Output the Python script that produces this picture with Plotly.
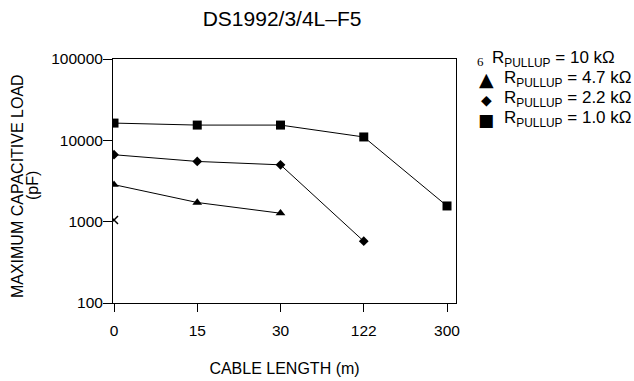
import plotly.graph_objects as go

cable_labels = ["0", "15", "30", "122", "300"]
cable_idx = [0, 1, 2, 3, 4]

r10k_x = [0]
r10k_y = [1050]

r47k_x = [0, 1, 2]
r47k_y = [2850, 1720, 1270]

r22k_x = [0, 1, 2, 3]
r22k_y = [6650, 5500, 5000, 575]

r10_x = [0, 1, 2, 3, 4]
r10_y = [16300, 15400, 15400, 11000, 1560]

y_ticks = [100, 1000, 10000, 100000]
y_tick_labels = ["100", "1000", "10000", "100000"]

legend_labels = ["R<sub>PULLUP</sub> = 10 kΩ", "R<sub>PULLUP</sub> = 4.7 kΩ",
                 "R<sub>PULLUP</sub> = 2.2 kΩ", "R<sub>PULLUP</sub> = 1.0 kΩ"]
legend_glyphs = ["6", "▲", "◆", "■"]

FONT = "Liberation Sans, Arial, sans-serif"

W, H = 634, 381
L, T = 113.3, 59
PW = 342.4
B = 78

fig = go.Figure()
line = dict(color="black", width=1)
fig.add_trace(go.Scatter(x=r47k_x, y=r47k_y, mode="lines+markers", line=line,
                         marker=dict(symbol="triangle-up", size=8.5, color="black")))
fig.add_trace(go.Scatter(x=r22k_x, y=r22k_y, mode="lines+markers", line=line,
                         marker=dict(symbol="diamond", size=7.5, color="black")))
fig.add_trace(go.Scatter(x=r10_x, y=r10_y, mode="lines+markers", line=line,
                         marker=dict(symbol="square", size=9, color="black")))
fig.add_trace(go.Scatter(x=r10k_x, y=r10k_y, mode="markers",
                         marker=dict(symbol="x-thin", size=8, color="black",
                                     line=dict(color="black", width=1.5))))

# small glyph artifacts next to the first points
for ch, yv, dy in [("n", r10_y[0], 0), ("u", r22k_y[0], 0), ("s", r47k_y[0], 0), ("5", r10k_y[0], 4)]:
    fig.add_annotation(x=0, y=yv, xref="x", yref="y", text=ch, showarrow=False,
                       xanchor="right", xshift=0, yshift=dy,
                       font=dict(family="Liberation Serif, serif", size=10, color="#333"))

# legend
rows_y = [1.002, 0.920, 0.838, 0.756]
glyph_y = [0.988, 0.918, 0.832, 0.750]
glyph_x = [1.072, 1.088, 1.088, 1.088]
glyph_size = [13, 19, 14, 17]
text_x = [1.100, 1.134, 1.134, 1.134]
for i in range(4):
    fam = "Liberation Serif, serif" if i == 0 else "DejaVu Sans, sans-serif"
    fig.add_annotation(x=glyph_x[i], y=glyph_y[i], xref="paper", yref="paper",
                       text=legend_glyphs[i], showarrow=False, xanchor="center",
                       yanchor="middle", font=dict(family=fam, size=glyph_size[i], color="black"))
    fig.add_annotation(x=text_x[i], y=rows_y[i], xref="paper", yref="paper",
                       text=legend_labels[i], showarrow=False, xanchor="left",
                       yanchor="middle", font=dict(family=FONT, size=17, color="black"))

# y-axis title as two tightly spaced lines
fig.add_annotation(x=0, y=0.48, xref="paper", yref="paper", text="MAXIMUM CAPACITIVE LOAD",
                   xshift=18.5 - L, showarrow=False, textangle=-90, xanchor="center",
                   yanchor="middle", font=dict(family=FONT, size=16, color="black"))
fig.add_annotation(x=0, y=0.48, xref="paper", yref="paper", text="(pF)", xshift=33.5 - L,
                   showarrow=False, textangle=-90, xanchor="center", yanchor="middle",
                   font=dict(family=FONT, size=16, color="black"))

fig.update_layout(
    width=W, height=H,
    margin=dict(l=L, r=W - L - PW, t=T, b=B, autoexpand=False),
    paper_bgcolor="white", plot_bgcolor="white",
    showlegend=False,
    title=dict(text="DS1992/3/4L–F5", x=0.493, xref="paper", xanchor="center",
               y=1 - 18.3 / H, yref="container", yanchor="middle",
               font=dict(family=FONT, size=21, color="black")),
    font=dict(family=FONT, size=15, color="black"),
)
fig.update_xaxes(range=[-0.012, 4.108], tickmode="array", tickvals=cable_idx, ticktext=cable_labels,
                 showgrid=False, zeroline=False, showline=True, linecolor="black", linewidth=1,
                 mirror=True, ticks="outside", ticklen=8, tickcolor="black", automargin=False,
                 ticklabelstandoff=5, tickfont=dict(size=15.5),
                 title=dict(text="CABLE LENGTH (m)", standoff=25, font=dict(size=16)))
fig.update_yaxes(type="log", range=[2, 5], tickmode="array", tickvals=y_ticks, ticktext=y_tick_labels,
                 showgrid=False, zeroline=False, showline=True, linecolor="black", linewidth=1,
                 mirror=True, ticks="outside", ticklen=9, tickcolor="black", automargin=False,
                 ticklabelstandoff=-3, tickfont=dict(size=15.5))

fig.write_html("out.html", config={"displayModeBar": False, "staticPlot": True},
               post_script="document.body.style.margin='0';")
